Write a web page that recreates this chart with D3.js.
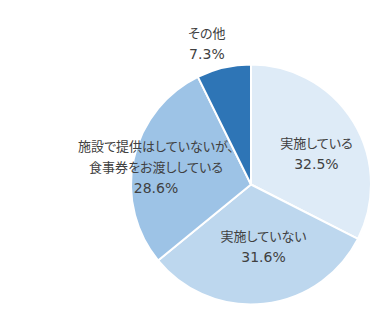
<!DOCTYPE html>
<html>
<head>
<meta charset="utf-8">
<script src="https://cdn.jsdelivr.net/npm/d3@7"></script>
<style>
body { margin: 0; background: #fff; }
svg text {
  font-family: "Noto Sans CJK JP", "Noto Sans", sans-serif;
  fill: #404040;
  font-feature-settings: "palt";
}
.cat { font-size: 13px; }
.pct { font-size: 14px; font-family: "DejaVu Sans", sans-serif; }
</style>
</head>
<body>
<svg id="chart" width="387" height="312"></svg>
<script>
// data
var categories = ['実施している', '実施していない', '施設で提供はしていないが、\n食事券をお渡ししている', 'その他'];
var values = [32.5, 31.6, 28.6, 7.3];
var colors = ['#DEEBF7', '#BDD7EE', '#9DC3E6', '#2E75B6'];

// label layout: radius factor from centre, then a small nudge
var labelRadius = [0.62, 0.51, 0.81, 1.25];
var labelNudge = [[2, 5], [6, -1], [0, 1], [-10, 3]];

var width = 387, height = 312;
var cx = 251, cy = 184.5, r = 120;

var svg = d3.select('#chart');
var g = svg.append('g').attr('transform', 'translate(' + cx + ',' + cy + ')');

var pie = d3.pie().sort(null).value(function(d) { return d; });
var arcs = pie(values);
var arc = d3.arc().innerRadius(0).outerRadius(r);

g.selectAll('path.slice')
  .data(arcs)
  .enter().append('path')
  .attr('class', 'slice')
  .attr('d', arc)
  .style('fill', function(d, i) { return colors[i]; })
  .style('stroke', '#fff')
  .style('stroke-width', 2)
  .style('stroke-linejoin', 'round');

var labels = g.selectAll('g.label')
  .data(arcs)
  .enter().append('g')
  .attr('class', 'label')
  .attr('transform', function(d, i) {
    var la = d3.arc().innerRadius(r * labelRadius[i]).outerRadius(r * labelRadius[i]);
    var c = la.centroid(d);
    return 'translate(' + (c[0] + labelNudge[i][0]) + ',' + (c[1] + labelNudge[i][1]) + ')';
  });

labels.each(function(d, i) {
  var lines = categories[i].split('\n');
  lines.push(d3.format('.1f')(values[i]) + '%');
  var n = lines.length;
  var sel = d3.select(this);
  lines.forEach(function(t, k) {
    sel.append('text')
      .attr('class', k === n - 1 ? 'pct' : 'cat')
      .attr('text-anchor', 'middle')
      .attr('x', 0)
      .attr('y', (k - (n - 1) / 2) * 21 + 7.5)
      .text(t);
  });
});
</script>
</body>
</html>
